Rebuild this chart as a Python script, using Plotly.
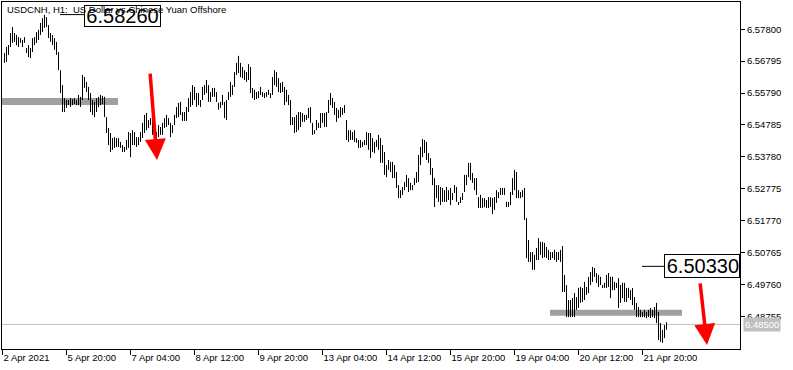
import plotly.graph_objects as go

# ---------------- data ----------------
high = [
    6.5705, 6.5724, 6.5730, 6.5768, 6.5787, 6.5768, 6.5762, 6.5755, 6.5752, 6.5746,
    6.5755, 6.5721, 6.5730, 6.5721, 6.5752, 6.5755, 6.5771, 6.5778, 6.5800, 6.5815,
    6.5825, 6.5818, 6.5793, 6.5768, 6.5762, 6.5752, 6.5740, 6.5708, 6.5651, 6.5604,
    6.5563, 6.5557, 6.5557, 6.5563, 6.5560, 6.5563, 6.5557, 6.5573, 6.5567, 6.5636,
    6.5629, 6.5614, 6.5598, 6.5579, 6.5557, 6.5551, 6.5563, 6.5567, 6.5573, 6.5570,
    6.5567, 6.5503, 6.5469, 6.5453, 6.5437, 6.5440, 6.5437, 6.5437, 6.5425, 6.5415,
    6.5409, 6.5431, 6.5456, 6.5453, 6.5462, 6.5456, 6.5440, 6.5440, 6.5456, 6.5485,
    6.5510, 6.5516, 6.5494, 6.5500, 6.5500, 6.5488, 6.5456, 6.5478, 6.5472, 6.5485,
    6.5500, 6.5510, 6.5500, 6.5485, 6.5478, 6.5510, 6.5535, 6.5548, 6.5551, 6.5519,
    6.5519, 6.5535, 6.5563, 6.5582, 6.5604, 6.5598, 6.5579, 6.5579, 6.5557, 6.5598,
    6.5604, 6.5620, 6.5604, 6.5582, 6.5595, 6.5595, 6.5582, 6.5548, 6.5551, 6.5573,
    6.5551, 6.5557, 6.5582, 6.5614, 6.5604, 6.5645, 6.5674, 6.5696, 6.5674, 6.5661,
    6.5651, 6.5645, 6.5670, 6.5661, 6.5595, 6.5589, 6.5582, 6.5585, 6.5598, 6.5582,
    6.5579, 6.5582, 6.5589, 6.5579, 6.5629, 6.5651, 6.5645, 6.5626, 6.5611, 6.5614,
    6.5598, 6.5589, 6.5573, 6.5557, 6.5503, 6.5503, 6.5510, 6.5519, 6.5519, 6.5516,
    6.5510, 6.5510, 6.5532, 6.5535, 6.5485, 6.5462, 6.5494, 6.5485, 6.5516, 6.5516,
    6.5516, 6.5519, 6.5557, 6.5579, 6.5563, 6.5551, 6.5532, 6.5526, 6.5535, 6.5532,
    6.5541, 6.5494, 6.5462, 6.5462, 6.5456, 6.5462, 6.5437, 6.5431, 6.5431, 6.5425,
    6.5431, 6.5456, 6.5453, 6.5453, 6.5437, 6.5425, 6.5431, 6.5447, 6.5437, 6.5415,
    6.5393, 6.5352, 6.5368, 6.5362, 6.5362, 6.5352, 6.5330, 6.5289, 6.5273, 6.5283,
    6.5299, 6.5321, 6.5311, 6.5296, 6.5289, 6.5311, 6.5330, 6.5384, 6.5409, 6.5434,
    6.5431, 6.5425, 6.5390, 6.5374, 6.5343, 6.5311, 6.5289, 6.5289, 6.5283, 6.5280,
    6.5273, 6.5283, 6.5273, 6.5280, 6.5264, 6.5289, 6.5283, 6.5236, 6.5251, 6.5264,
    6.5321, 6.5321, 6.5359, 6.5359, 6.5327, 6.5311, 6.5311, 6.5251, 6.5258, 6.5248,
    6.5248, 6.5242, 6.5251, 6.5251, 6.5248, 6.5251, 6.5273, 6.5267, 6.5280, 6.5280,
    6.5280, 6.5236, 6.5236, 6.5267, 6.5311, 6.5337, 6.5330, 6.5273, 6.5267, 6.5273,
    6.5280, 6.5185, 6.5116, 6.5078, 6.5078, 6.5069, 6.5091, 6.5122, 6.5110, 6.5110,
    6.5107, 6.5094, 6.5085, 6.5078, 6.5078, 6.5085, 6.5078, 6.5078, 6.5085, 6.5097,
    6.5006, 6.4974, 6.4927, 6.4927, 6.4933, 6.4949, 6.4936, 6.4965, 6.4968, 6.4965,
    6.4984, 6.4968, 6.5000, 6.5015, 6.5031, 6.5028, 6.5012, 6.5006, 6.5000, 6.4974,
    6.4981, 6.5006, 6.5012, 6.5000, 6.5000, 6.4984, 6.4981, 6.4996, 6.4974, 6.4981,
    6.4981, 6.4965, 6.4965, 6.4958, 6.4965, 6.4936, 6.4918, 6.4905, 6.4896, 6.4889,
    6.4896, 6.4889, 6.4896, 6.4902, 6.4896, 6.4905, 6.4918, 6.4889, 6.4854, 6.4833,
    6.4848, 6.4857,
]
low = [
    6.5674, 6.5677, 6.5699, 6.5724, 6.5737, 6.5740, 6.5730, 6.5724, 6.5737, 6.5724,
    6.5737, 6.5705, 6.5692, 6.5689, 6.5708, 6.5730, 6.5737, 6.5746, 6.5762, 6.5771,
    6.5784, 6.5787, 6.5752, 6.5740, 6.5730, 6.5715, 6.5699, 6.5651, 6.5579, 6.5519,
    6.5519, 6.5532, 6.5541, 6.5535, 6.5541, 6.5544, 6.5541, 6.5541, 6.5535, 6.5557,
    6.5595, 6.5582, 6.5557, 6.5519, 6.5510, 6.5503, 6.5519, 6.5535, 6.5541, 6.5544,
    6.5503, 6.5453, 6.5415, 6.5393, 6.5400, 6.5406, 6.5409, 6.5409, 6.5406, 6.5393,
    6.5393, 6.5400, 6.5406, 6.5377, 6.5415, 6.5415, 6.5409, 6.5415, 6.5425, 6.5437,
    6.5453, 6.5462, 6.5469, 6.5478, 6.5447, 6.5437, 6.5415, 6.5440, 6.5447, 6.5447,
    6.5469, 6.5472, 6.5478, 6.5440, 6.5453, 6.5478, 6.5500, 6.5503, 6.5510, 6.5491,
    6.5491, 6.5491, 6.5519, 6.5535, 6.5541, 6.5557, 6.5535, 6.5541, 6.5535, 6.5557,
    6.5573, 6.5579, 6.5551, 6.5551, 6.5567, 6.5567, 6.5551, 6.5526, 6.5532, 6.5541,
    6.5500, 6.5494, 6.5557, 6.5567, 6.5573, 6.5598, 6.5636, 6.5642, 6.5629, 6.5626,
    6.5620, 6.5614, 6.5620, 6.5579, 6.5563, 6.5557, 6.5560, 6.5563, 6.5573, 6.5567,
    6.5563, 6.5567, 6.5573, 6.5563, 6.5573, 6.5604, 6.5598, 6.5582, 6.5579, 6.5582,
    6.5541, 6.5551, 6.5541, 6.5478, 6.5478, 6.5453, 6.5456, 6.5462, 6.5472, 6.5488,
    6.5488, 6.5494, 6.5500, 6.5485, 6.5447, 6.5450, 6.5462, 6.5469, 6.5469, 6.5485,
    6.5472, 6.5472, 6.5516, 6.5541, 6.5532, 6.5510, 6.5488, 6.5500, 6.5503, 6.5510,
    6.5516, 6.5431, 6.5425, 6.5431, 6.5431, 6.5425, 6.5422, 6.5406, 6.5406, 6.5409,
    6.5415, 6.5415, 6.5400, 6.5374, 6.5393, 6.5390, 6.5409, 6.5400, 6.5359, 6.5359,
    6.5321, 6.5314, 6.5337, 6.5330, 6.5311, 6.5311, 6.5280, 6.5248, 6.5248, 6.5258,
    6.5273, 6.5283, 6.5267, 6.5273, 6.5273, 6.5289, 6.5296, 6.5299, 6.5352, 6.5377,
    6.5390, 6.5368, 6.5359, 6.5321, 6.5289, 6.5220, 6.5248, 6.5236, 6.5226, 6.5236,
    6.5236, 6.5236, 6.5242, 6.5226, 6.5242, 6.5264, 6.5236, 6.5226, 6.5233, 6.5242,
    6.5267, 6.5289, 6.5314, 6.5305, 6.5296, 6.5273, 6.5258, 6.5217, 6.5217, 6.5217,
    6.5220, 6.5217, 6.5217, 6.5220, 6.5198, 6.5211, 6.5233, 6.5248, 6.5258, 6.5258,
    6.5258, 6.5220, 6.5220, 6.5226, 6.5258, 6.5273, 6.5248, 6.5248, 6.5248, 6.5251,
    6.5179, 6.5059, 6.5047, 6.5047, 6.5022, 6.5022, 6.5053, 6.5053, 6.5069, 6.5059,
    6.5062, 6.5059, 6.5053, 6.5053, 6.5059, 6.5053, 6.5047, 6.5053, 6.5047, 6.4952,
    6.4952, 6.4873, 6.4873, 6.4873, 6.4873, 6.4873, 6.4896, 6.4902, 6.4918, 6.4921,
    6.4927, 6.4943, 6.4949, 6.4974, 6.4984, 6.5000, 6.4981, 6.4968, 6.4974, 6.4965,
    6.4965, 6.4965, 6.4968, 6.4933, 6.4958, 6.4958, 6.4965, 6.4902, 6.4918, 6.4933,
    6.4921, 6.4921, 6.4933, 6.4927, 6.4911, 6.4896, 6.4873, 6.4873, 6.4873, 6.4873,
    6.4873, 6.4870, 6.4873, 6.4870, 6.4873, 6.4870, 6.4854, 6.4801, 6.4795, 6.4792,
    6.4807, 6.4833,
]

ytick_vals = [6.57800, 6.56795, 6.55790, 6.54785, 6.53780, 6.52775, 6.51770, 6.50765, 6.49760, 6.48755]
xtick_bars = [-1, 31, 63, 95, 127, 159, 191, 223, 255, 287, 319]
xtick_text = ["2 Apr 2021", "5 Apr 20:00", "7 Apr 04:00", "8 Apr 12:00", "9 Apr 20:00",
              "13 Apr 04:00", "14 Apr 12:00", "15 Apr 20:00", "19 Apr 04:00", "20 Apr 12:00",
              "21 Apr 20:00"]
title_text = "USDCNH, H1:\u00a0 US Dollar vs Chinese Yuan Offshore"
current_price = 6.48500
label_prices = [6.58260, 6.50330]
zone_levels = [(6.5563, 6.5541), (6.4896, 6.4877)]   # (top, bottom) of grey zones
arrow_tail = [(72.75, 6.5645), (347.75, 6.4984)]
arrow_tip = [(76.25, 6.5368), (351.25, 6.4785)]

# ---------------- geometry ----------------
W, H = 793, 370
L, R, T, B = 2, 53, 2, 21
PW, PH = W - L - R, H - T - B


def px(x):
    return (x - L) / PW


def py(y):
    return 1 - (y - T) / PH


def bar_at(xpix):
    return (xpix - 4.5) / 2.0


FONT = "Liberation Sans"

xs, ys = [], []
for i, (h, l) in enumerate(zip(high, low)):
    xs += [i, i, None]
    ys += [l, h, None]

fig = go.Figure()
fig.add_trace(go.Scatter(x=xs, y=ys, mode="lines",
                         line=dict(color="black", width=1), hoverinfo="skip",
                         showlegend=False))

shapes = []
# current price line
shapes.append(dict(type="line", xref="paper", yref="y", x0=0, x1=1,
                   y0=current_price, y1=current_price,
                   line=dict(color="#c0c0c0", width=1), layer="below"))
# grey zones
zone_x = [(bar_at(2), bar_at(118)), (bar_at(550), bar_at(682))]
for (x0, x1), (yt, yb) in zip(zone_x, zone_levels):
    shapes.append(dict(type="rect", xref="x", yref="y", x0=x0, x1=x1, y0=yb, y1=yt,
                       fillcolor="#a0a0a0", line=dict(width=0), layer="below"))
# connector lines for price labels
conn = [(60, 84), (642, 664)]
for (a, b), p in zip(conn, label_prices):
    shapes.append(dict(type="line", xref="x", yref="y", x0=bar_at(a), x1=bar_at(b),
                       y0=p, y1=p, line=dict(color="black", width=1)))

annotations = []
# price label boxes
annotations.append(dict(xref="paper", yref="y", x=px(84), y=label_prices[0],
                        xanchor="left", yanchor="middle", yshift=-1,
                        text=f"{label_prices[0]:.5f}", showarrow=False,
                        font=dict(family=FONT, size=20, color="black"),
                        bgcolor="white", bordercolor="black", borderwidth=1,
                        borderpad=0, width=75, height=20, align="center"))
annotations.append(dict(xref="paper", yref="y", x=px(664), y=label_prices[1],
                        xanchor="left", yanchor="middle",
                        text=f"{label_prices[1]:.5f}", showarrow=False,
                        font=dict(family=FONT, size=20, color="black"),
                        bgcolor="white", bordercolor="black", borderwidth=1,
                        borderpad=0, width=74, height=22, align="right"))
# red arrows
for (tx, ty), (hx, hy) in zip(arrow_tail, arrow_tip):
    annotations.append(dict(x=hx, y=hy, xref="x", yref="y", ax=tx, ay=ty,
                            axref="x", ayref="y", text="", showarrow=True,
                            arrowhead=2, arrowsize=1.2, arrowwidth=3.5,
                            arrowcolor="#ff0000", standoff=0))
# current price tag on axis
annotations.append(dict(xref="paper", yref="y", x=1, y=current_price, xshift=3,
                        xanchor="left", yanchor="middle",
                        text=f"{current_price:.5f}", showarrow=False,
                        font=dict(family=FONT, size=9.5, color="white"),
                        bgcolor="#c0c0c0", borderpad=1))
# title (drawn above the label box)
annotations.append(dict(xref="paper", yref="paper", x=px(6), y=py(3),
                        xanchor="left", yanchor="top", text=title_text,
                        showarrow=False, borderpad=0,
                        font=dict(family=FONT, size=9.5, color="black")))

fig.update_layout(
    width=W, height=H,
    margin=dict(l=L, r=R, t=T, b=B, pad=0),
    paper_bgcolor="white", plot_bgcolor="white",
    showlegend=False, hovermode=False,
    shapes=shapes, annotations=annotations,
    xaxis=dict(range=[-1.25, -1.25 + PW / 2.0], showgrid=False, zeroline=False,
               showline=True, mirror=True, linecolor="black", linewidth=1,
               tickmode="array", tickvals=xtick_bars, ticktext=xtick_text,
               ticks="outside", ticklen=5, tickcolor="black", tickwidth=1,
               ticklabelposition="outside right",
               tickfont=dict(family=FONT, size=9.5, color="black")),
    yaxis=dict(range=[6.5872 - 0.000315 * (H - B), 6.5872 - 0.000315 * T],
               side="right", showgrid=False, zeroline=False,
               showline=True, mirror=True, linecolor="black", linewidth=1,
               tickmode="array", tickvals=ytick_vals,
               ticktext=[f"{v:.5f}" for v in ytick_vals],
               ticks="outside", ticklen=4, tickcolor="black", tickwidth=1,
               tickfont=dict(family=FONT, size=9.5, color="black")),
)

fig.write_html("out.html")
